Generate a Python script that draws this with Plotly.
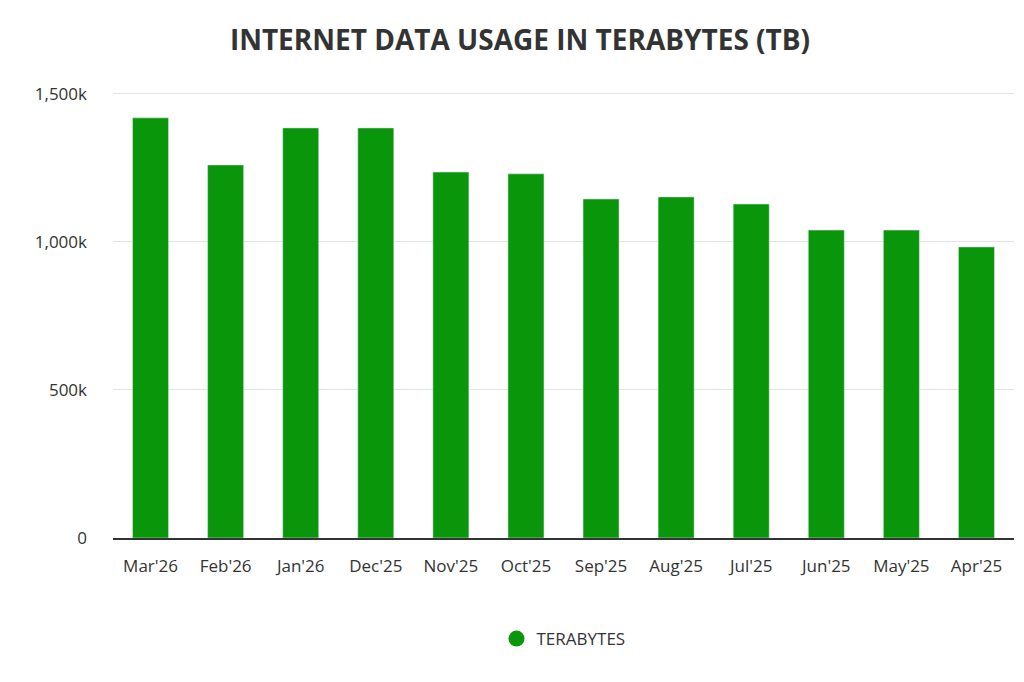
import plotly.graph_objects as go

months = ["Mar'26", "Feb'26", "Jan'26", "Dec'25", "Nov'25", "Oct'25",
          "Sep'25", "Aug'25", "Jul'25", "Jun'25", "May'25", "Apr'25"]
terabytes = [1419000, 1260000, 1385000, 1385000, 1236000, 1230000,
             1145000, 1152000, 1128000, 1040000, 1040000, 983000]
tick_vals = [0, 500000, 1000000, 1500000]
tick_text = ["0", "500k", "1,000k", "1,500k"]

green = '#0a960a'

fig = go.Figure()
fig.add_trace(go.Bar(x=months, y=terabytes, marker_color=green, showlegend=False,
                     hovertemplate='%{x}: %{y:,}<extra></extra>'))
# circle legend marker
fig.add_trace(go.Scatter(x=[None], y=[None], mode='markers', name='TERABYTES',
                         marker=dict(color=green, size=22, symbol='circle')))

fig.update_layout(
    width=1024, height=682,
    plot_bgcolor='white', paper_bgcolor='white',
    font=dict(family='Open Sans', size=17, color='#333333'),
    title=dict(text='<b>INTERNET DATA USAGE IN TERABYTES (TB)</b>', x=0.5, y=0.953,
               xanchor='center', yanchor='middle', font=dict(size=28, color='#333333')),
    margin=dict(l=105, r=18, t=77, b=152),
    bargap=0.52,
    legend=dict(orientation='h', x=0.5, xanchor='center', y=-0.223, yanchor='middle',
                font=dict(size=17)),
)
fig.update_xaxes(showline=True, linecolor='#333333', linewidth=1.5, ticks='',
                 tickfont=dict(size=17), ticklabelstandoff=12)
fig.update_yaxes(range=[0, 1530000], tickvals=tick_vals, ticktext=tick_text,
                 gridcolor='#e3e3e3', zeroline=False, ticks='', tickfont=dict(size=17),
                 ticklabelstandoff=25)

fig.write_html("out.html")
